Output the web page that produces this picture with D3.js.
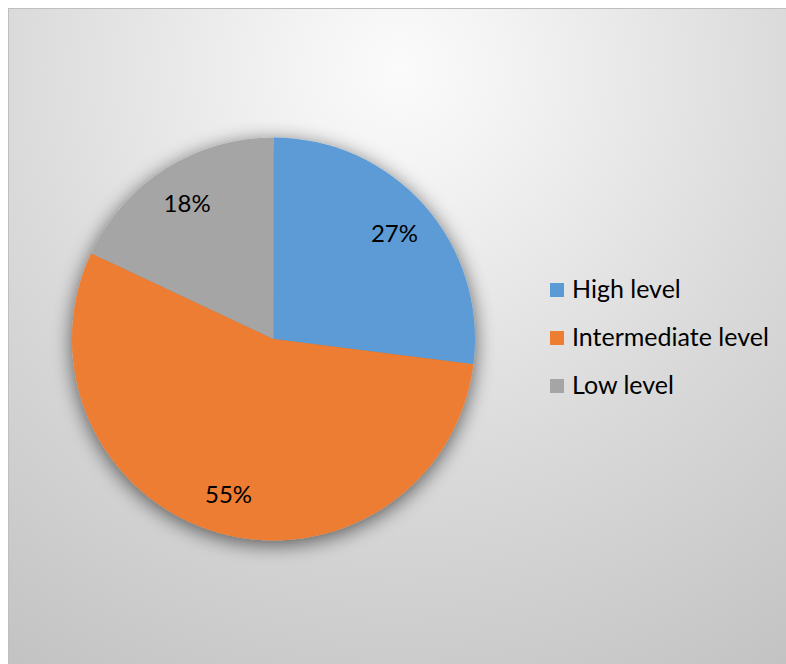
<!DOCTYPE html>
<html>
<head>
<meta charset="utf-8">
<script src="https://cdn.jsdelivr.net/npm/d3@7"></script>
<style>
  html, body { margin: 0; padding: 0; background: #ffffff; }
  svg { display: block; }
  text { font-family: Lato, "Open Sans", sans-serif; fill: #000000; }
</style>
</head>
<body>
<svg id="chart" width="786" height="664"></svg>
<script>
// Share of respondents by level
const categories = ["High level", "Intermediate level", "Low level"];
const values = [27, 55, 18];
const colors = ["#5B9BD5", "#ED7D31", "#A5A5A5"];

const W = 786, H = 664;
const svg = d3.select("#chart");
const defs = svg.append("defs");

// chart area background: soft radial grey gradient
const grad = defs.append("radialGradient")
  .attr("id", "bg")
  .attr("gradientUnits", "userSpaceOnUse")
  .attr("cx", 400).attr("cy", 70).attr("r", 720);
[[0, "#fbfbfb"], [0.15, "#f3f3f3"], [0.55, "#dadada"], [1, "#c2c2c2"]]
  .forEach(([o, c]) => grad.append("stop").attr("offset", o).attr("stop-color", c));

// soft outer shadow for the pie
const shadow = defs.append("filter")
  .attr("id", "shadow")
  .attr("x", "-25%").attr("y", "-25%").attr("width", "150%").attr("height", "150%");
shadow.append("feGaussianBlur").attr("in", "SourceAlpha").attr("stdDeviation", 10).attr("result", "blur");
shadow.append("feOffset").attr("in", "blur").attr("dx", 0).attr("dy", 4).attr("result", "off");
shadow.append("feComponentTransfer").attr("in", "off").attr("result", "shade")
  .append("feFuncA").attr("type", "linear").attr("slope", 0.6);
const merge = shadow.append("feMerge");
merge.append("feMergeNode").attr("in", "shade");
merge.append("feMergeNode").attr("in", "SourceGraphic");

// frame
svg.append("rect")
  .attr("x", 8.5).attr("y", 8.5)
  .attr("width", W).attr("height", H)
  .attr("fill", "url(#bg)")
  .attr("stroke", "#bfbfbf").attr("stroke-width", 1);

const cx = 273.5, cy = 339, radius = 201.5;
const labelSize = 24, legendSize = 25;

const pie = d3.pie().sort(null).value(d => d)(values);
const arc = d3.arc().innerRadius(0).outerRadius(radius);
const labelArc = d3.arc().innerRadius(radius * 0.8).outerRadius(radius * 0.8);
const total = d3.sum(values);

const g = svg.append("g").attr("transform", `translate(${cx},${cy})`);

g.append("g").attr("filter", "url(#shadow)")
  .selectAll("path")
  .data(pie)
  .join("path")
  .attr("d", arc)
  .attr("fill", (d, i) => colors[i]);

g.selectAll("text.lbl")
  .data(pie)
  .join("text")
  .attr("class", "lbl")
  .attr("transform", d => `translate(${labelArc.centroid(d)})`)
  .attr("text-anchor", "middle")
  .attr("dominant-baseline", "central")
  .attr("font-size", labelSize)
  .text(d => Math.round(d.value / total * 100) + "%");

// legend
const legend = svg.append("g").attr("transform", "translate(550,0)");
const legendY = d3.scalePoint().domain(categories).range([298, 394]);
const sq = 14;
const items = legend.selectAll("g")
  .data(categories)
  .join("g")
  .attr("transform", d => `translate(0,${legendY(d)})`);
items.append("rect")
  .attr("x", 0).attr("y", -sq - 1)
  .attr("width", sq).attr("height", sq)
  .attr("fill", (d, i) => colors[i]);
items.append("text")
  .attr("x", 22).attr("y", 0)
  .attr("font-size", legendSize)
  .text(d => d);
</script>
</body>
</html>
